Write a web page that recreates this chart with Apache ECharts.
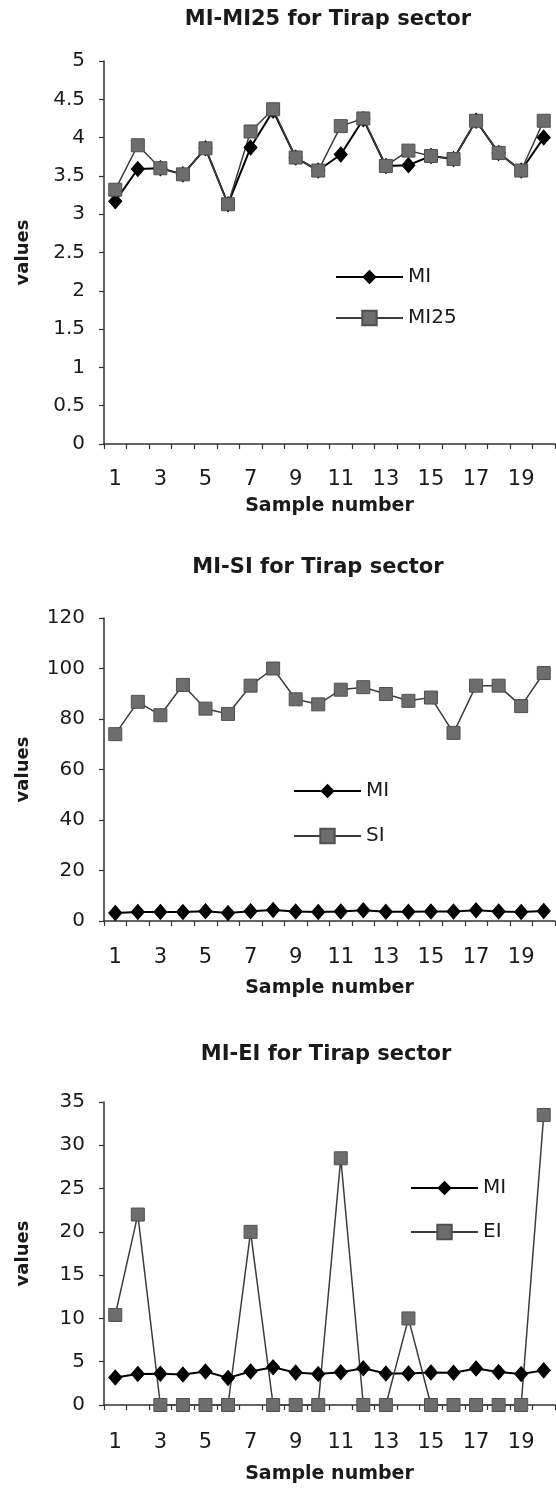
<!DOCTYPE html>
<html>
<head>
<meta charset="utf-8">
<script src="https://cdn.jsdelivr.net/npm/echarts@6/dist/echarts.min.js"></script>
<style>
html,body{margin:0;padding:0;background:#fff;}
#c{width:556px;height:1488px;}
</style>
</head>
<body>
<div id="c"></div>
<script>
// ---- data ----
const categories = ['1','2','3','4','5','6','7','8','9','10','11','12','13','14','15','16','17','18','19','20'];
const MI   = [3.17, 3.59, 3.60, 3.52, 3.86, 3.13, 3.87, 4.35, 3.74, 3.57, 3.78, 4.24, 3.63, 3.64, 3.76, 3.72, 4.22, 3.80, 3.57, 4.00];
const MI25 = [3.32, 3.90, 3.60, 3.52, 3.86, 3.13, 4.08, 4.37, 3.74, 3.57, 4.15, 4.25, 3.63, 3.83, 3.76, 3.72, 4.22, 3.80, 3.57, 4.22];
const SI   = [74.0, 86.8, 81.5, 93.5, 84.1, 82.0, 93.2, 100.0, 87.8, 85.8, 91.6, 92.6, 89.9, 87.2, 88.5, 74.5, 93.2, 93.2, 85.1, 98.2];
const EI   = [10.4, 22.0, 0, 0, 0, 0, 20.0, 0, 0, 0, 28.5, 0, 0, 10.0, 0, 0, 0, 0, 0, 33.5];
const titles = ['MI-MI25 for Tirap sector', 'MI-SI for Tirap sector', 'MI-EI for Tirap sector'];
const secondNames = ['MI25', 'SI', 'EI'];
const secondData = [MI25, SI, EI];
const yMax = [5, 120, 35];
const yInterval = [0.5, 20, 5];
const xName = 'Sample number';
const yName = 'values';

// ---- layout ----
const FONT = 'DejaVu Sans';
const TXT = '#1a1a1a';
const grids = [
  {left:104, top:61,   width:451, height:383},
  {left:104, top:618,  width:451, height:303},
  {left:104, top:1102, width:451, height:303}
];
const titlePos = [{x:328, y:9}, {x:318, y:557}, {x:326, y:1044}];
const legendPos = [{left:335, top:267, gap:21}, {left:293, top:781, gap:25}, {left:410, top:1178, gap:24}];
const xNameGap = [53, 58, 60];
const xLabelMargin = [25, 26, 27];

const option = {
  backgroundColor:'#fff',
  animation:false,
  title: titles.map((t,i)=>({
    text:t, left:titlePos[i].x, top:titlePos[i].y, textAlign:'center', padding:0,
    textStyle:{fontFamily:FONT, fontWeight:'bold', fontSize:21, color:TXT}
  })),
  grid: grids.map(g=>Object.assign({containLabel:false}, g)),
  legend: secondNames.map((n,i)=>({
    orient:'vertical', left:legendPos[i].left, top:legendPos[i].top, itemGap:legendPos[i].gap,
    itemWidth:67, itemHeight:18, padding:0,
    data:['MI', n].map(s=>({name:s})),
    textStyle:{fontFamily:FONT, fontSize:20, color:TXT, lineHeight:20},
    selectedMode:false
  })),
  xAxis: grids.map((g,i)=>({
    type:'category', gridIndex:i, data:categories, boundaryGap:true,
    name:xName, nameLocation:'middle', nameGap:xNameGap[i],
    nameTextStyle:{fontFamily:FONT, fontWeight:'bold', fontSize:19, color:TXT},
    axisLine:{lineStyle:{color:'#333', width:1.5}},
    axisTick:{show:true, alignWithLabel:false, interval:0, length:5, lineStyle:{color:'#333', width:1.2}},
    axisLabel:{interval:1, margin:xLabelMargin[i], fontFamily:FONT, fontSize:21, color:TXT},
    splitLine:{show:false}
  })),
  yAxis: grids.map((g,i)=>({
    type:'value', gridIndex:i, min:0, max:yMax[i], interval:yInterval[i],
    name:yName, nameLocation:'middle', nameGap:72, nameRotate:90,
    nameTextStyle:{fontFamily:FONT, fontWeight:'bold', fontSize:18, color:TXT},
    axisLine:{show:true, lineStyle:{color:'#333', width:1.5}},
    axisTick:{show:true, length:5, lineStyle:{color:'#333', width:1.2}},
    axisLabel:{margin:19, fontFamily:FONT, fontSize:20, color:TXT},
    splitLine:{show:false}
  })),
  series: []
};

for (let i=0;i<3;i++){
  option.series.push({
    name:'MI', type:'line', xAxisIndex:i, yAxisIndex:i, data:MI,
    symbol:'diamond', symbolSize:[13,15],
    lineStyle:{color:'#000', width:2},
    itemStyle:{color:'#000', borderColor:'#000'}
  });
  option.series.push({
    name:secondNames[i], type:'line', xAxisIndex:i, yAxisIndex:i, data:secondData[i],
    symbol:'rect', symbolSize:13,
    lineStyle:{color:'#3c3c3c', width:1.5},
    itemStyle:{color:'#6d6d6d', borderColor:'#505050', borderWidth:1}
  });
}

const chart = echarts.init(document.getElementById('c'), null, {renderer:'canvas', width:556, height:1488});
chart.setOption(option);
</script>
</body>
</html>
